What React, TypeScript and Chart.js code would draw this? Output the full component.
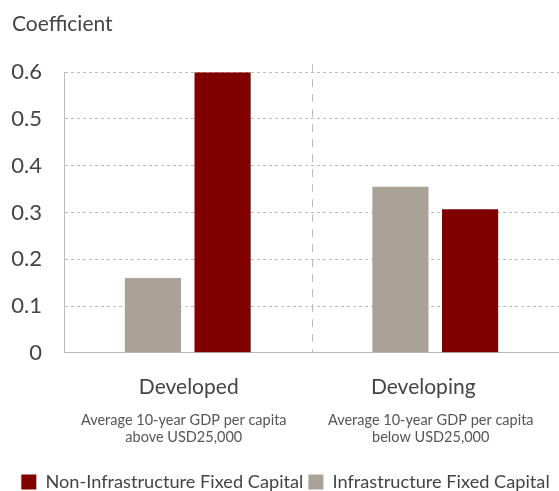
import React, { useEffect, useRef } from "react";
import { Chart, registerables } from "chart.js";

Chart.register(...registerables);

const categories = ["Developed", "Developing"];
const subtitles = [
  ["Average 10-year GDP per capita", "above USD25,000"],
  ["Average 10-year GDP per capita", "below USD25,000"],
];
const infrastructure = [0.16, 0.355];
const nonInfrastructure = [0.6, 0.307];
const seriesNames = ["Infrastructure Fixed Capital", "Non-Infrastructure Fixed Capital"];
const yTicks = [0, 0.1, 0.2, 0.3, 0.4, 0.5, 0.6];

const FONT = "Lato, 'Open Sans', sans-serif";
const GRAY = "#aaa197";
const RED = "#800000";
// horizontal nudges of the text under each category (layout only)
const LABEL_SHIFT = [1, -12];
const SUB_SHIFT = [-4, -4.5];

const extrasPlugin = {
  id: "extras",
  afterDraw(chart: any) {
    const { ctx, chartArea, scales } = chart;
    const x = scales.x;
    const mid = (x.getPixelForValue(0) + x.getPixelForValue(1)) / 2;
    ctx.save();
    ctx.strokeStyle = "#bbbbbb";
    ctx.lineWidth = 1;
    ctx.setLineDash([8, 7]);
    ctx.beginPath();
    ctx.moveTo(Math.round(mid) + 0.5, chartArea.top - 8);
    ctx.lineTo(Math.round(mid) + 0.5, chartArea.bottom);
    ctx.stroke();
    ctx.setLineDash([]);
    ctx.textAlign = "center";
    ctx.textBaseline = "middle";
    categories.forEach((cat, i) => {
      const px = x.getPixelForValue(i);
      ctx.fillStyle = "#444";
      ctx.font = `21px ${FONT}`;
      ctx.fillText(cat, px + LABEL_SHIFT[i], chartArea.bottom + 34);
      ctx.fillStyle = "#555";
      ctx.font = `14.5px ${FONT}`;
      subtitles[i].forEach((line, j) => {
        ctx.fillText(line, px + SUB_SHIFT[i], chartArea.bottom + 68 + j * 17);
      });
    });
    ctx.restore();
  },
};

export default function App() {
  const ref = useRef<HTMLCanvasElement>(null);
  useEffect(() => {
    document.body.style.margin = "0";
    const chart = new Chart(ref.current!, {
      type: "bar",
      data: {
        labels: categories,
        datasets: [
          {
            label: seriesNames[0],
            data: infrastructure,
            backgroundColor: GRAY,
            categoryPercentage: 0.563,
            barPercentage: 0.806,
          },
          {
            label: seriesNames[1],
            data: nonInfrastructure,
            backgroundColor: RED,
            categoryPercentage: 0.563,
            barPercentage: 0.806,
          },
        ],
      },
      options: {
        animation: false,
        responsive: false,
        maintainAspectRatio: false,
        layout: { padding: { left: 12, right: 0, top: 0, bottom: -10 } },
        plugins: {
          tooltip: { enabled: false },
          title: {
            display: true,
            text: "Coefficient",
            align: "start",
            color: "#444",
            font: { family: FONT, size: 21, weight: "normal" as any },
            padding: { top: 12, bottom: 35 },
          },
          legend: {
            position: "bottom",
            reverse: true,
            labels: {
              boxWidth: 15,
              boxHeight: 15,
              color: "#444",
              padding: 5,
              font: { family: FONT, size: 18.2 },
            },
          },
        },
        scales: {
          x: {
            grid: { display: false },
            border: { display: true, color: "#bbbbbb" },
            ticks: { display: false },
            afterFit(scale: any) {
              scale.height = 115;
            },
          },
          y: {
            min: 0,
            max: 0.6,
            afterBuildTicks(scale: any) {
              scale.ticks = yTicks.map((v) => ({ value: v }));
            },
            afterFit(scale: any) {
              scale.width = 52;
            },
            grid: {
              color: "#bbbbbb",
              drawTicks: false,
            },
            border: { display: true, color: "#bbbbbb", dash: [3, 3] },
            ticks: {
              color: "#444",
              padding: 22,
              font: { family: FONT, size: 22 },
              callback: (v: any) => String(Math.round(Number(v) * 10) / 10),
            },
          },
        },
      },
      plugins: [extrasPlugin],
    } as any);
    return () => chart.destroy();
  }, []);
  return (
    <div style={{ width: 559, height: 491 }}>
      <canvas ref={ref} width={559} height={491} style={{ display: "block" }} />
    </div>
  );
}
